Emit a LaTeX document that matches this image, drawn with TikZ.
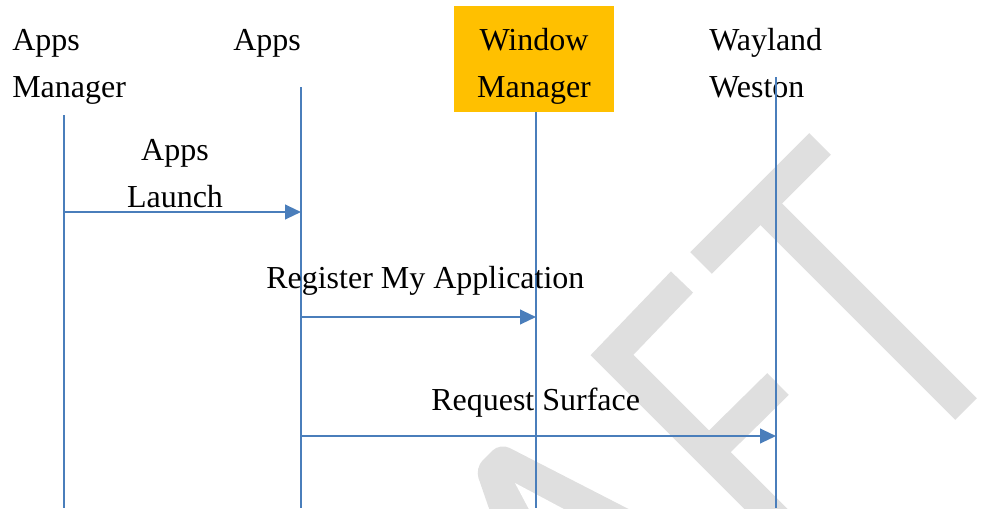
\documentclass[tikz,border=0pt]{standalone}
\usepackage{fontspec}
\setmainfont{Liberation Serif}
\usetikzlibrary{arrows.meta, positioning}
\definecolor{lifeblue}{HTML}{4A7EBB}
\definecolor{wmorange}{HTML}{FFC000}
\definecolor{draftgrey}{HTML}{DFDFDF}

\begin{document}
\begin{tikzpicture}[x=0.75pt, y=-0.75pt,
	lbl/.style={inner sep=0, font=\fontsize{24}{35.25}\selectfont},
	life/.style={lifeblue, line width=1.1pt},
	msg/.style={lifeblue, line width=1.6pt, -{Triangle[length=12pt, width=11pt]}},
	draft/.style={draftgrey, line width=23pt}]
	\useasboundingbox (0,0) rectangle (1002,508);
	% watermark behind everything
	\begin{scope}
		\clip (0,0) rectangle (1002,508);
		\draw[draft] (820,144) -- (701,263);
		\draw[draft] (761,204) -- (966,409);
		\draw[draft, line join=miter] (682,282) -- (612,355) -- (800,543);
		\draw[draft] (709,452) -- (778,384);
		\fill[draftgrey, rounded corners=8pt] (493,520) -- (475,468) -- (500,443) -- (650,520) -- cycle;
		\fill[white] (515,483) -- (532,515) -- (575,515) -- cycle;
	\end{scope}
	% headers (base = last line)
	\node[lbl, anchor=base west, align=left] (amtxt) at (12,97) {Apps\\Manager};
	\node[lbl, anchor=base west] (apptxt) at (233,50) {Apps};
	\node[fill=wmorange, inner sep=0, minimum width=120pt, minimum height=79.5pt] (wmbox) at (534,59) {};
	\node[lbl, anchor=base, align=center] (wmtxt) at (534,97) {Window\\Manager};
	\node[lbl, anchor=base west, align=left] (wltxt) at (709,97) {Wayland\\Weston};
	% lifelines
	\coordinate (am) at (64,115);
	\coordinate (app) at (301,87);
	\coordinate (wm) at ([xshift=1.5pt]wmbox.south);
	\coordinate (wl) at (776,77);
	\coordinate (bot) at (0,508);
	\draw[life] (am) -- (am |- bot);
	\draw[life] (app) -- (app |- bot);
	\draw[life] (wm) -- (wm |- bot);
	\draw[life] (wl) -- (wl |- bot);
	% messages
	\coordinate (launch) at (0,212);
	\coordinate (register) at (0,317);
	\coordinate (request) at (0,436);
	\draw[msg] (am |- launch) -- (app |- launch);
	\draw[msg] (app |- register) -- (wm |- register);
	\draw[msg] (app |- request) -- (wl |- request);
	\node[lbl, anchor=base, align=center] (launchtxt) at (175,207) {Apps\\Launch};
	\node[lbl, anchor=base west] (registertxt) at (266,288) {Register My Application};
	\node[lbl, anchor=base west] (requesttxt) at (431,410) {Request Surface};
\end{tikzpicture}
\end{document}
